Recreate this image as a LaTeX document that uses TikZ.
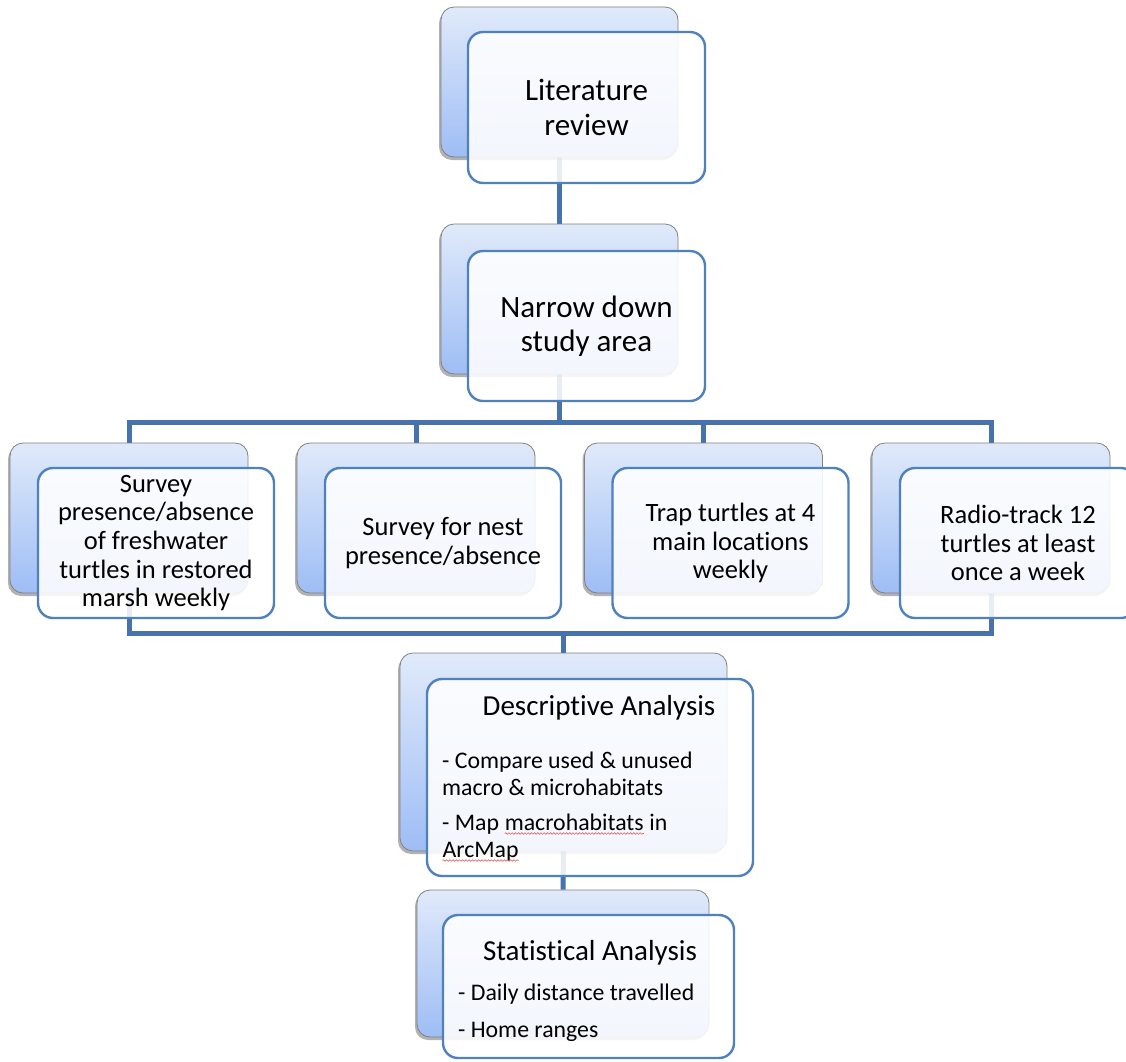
\documentclass[tikz,border=0pt]{standalone}
\usepackage{fontspec}
\setmainfont{Carlito}[Ligatures={NoCommon}]
\usetikzlibrary{shadows,decorations.pathmorphing}
\definecolor{conncol}{RGB}{70,115,172}
\definecolor{frontcol}{RGB}{79,129,189}
\definecolor{backtop}{RGB}{224,234,250}
\definecolor{backbot}{RGB}{158,189,245}
\definecolor{backedge}{RGB}{128,128,128}
\definecolor{squigcol}{RGB}{235,90,90}
\pgfdeclarelayer{bg}
\pgfsetlayers{bg,main}
\newcommand\squig[1]{\tikz[baseline=(sqw.base)]{\node[inner sep=0pt,outer sep=0pt,draw=none,fill=none,anchor=base](sqw){#1};\draw[squigcol,line width=0.6pt,decorate,decoration={snake,amplitude=0.8pt,segment length=3.2pt}]([yshift=-3.5pt]sqw.base west)--([yshift=-3.5pt]sqw.base east);}}
\tikzset{
  backbox/.style={rounded corners=13pt, draw=backedge, line width=0.8pt,
    top color=backtop, bottom color=backbot, inner sep=0pt,
    drop shadow={shadow xshift=-2pt, shadow yshift=-3pt, opacity=0.3, fill=black}},
  frontbox/.style={rounded corners=15pt, draw=frontcol, line width=2.4pt,
    fill=white, fill opacity=0.88, text opacity=1, text=black, align=center, inner sep=0pt},
  conn/.style={draw=conncol, line width=5pt},
  txt/.style={inner sep=0pt, text=black},
  lvlone/.style={font=\fontsize{31}{34.5}\selectfont},
  lvlchild/.style={font=\fontsize{26.5}{28.7}\selectfont},
  titlefont/.style={font=\fontsize{29}{34}\selectfont},
  bulletfont/.style={font=\fontsize{23.8}{27}\selectfont},
  childback/.style={backbox, minimum width=238pt, minimum height=150pt},
  childfront/.style={frontbox, lvlchild, minimum width=236pt, minimum height=150pt}
}
\begin{document}
\begin{tikzpicture}[x=1pt,y=-1pt]
\useasboundingbox (0,0) rectangle (1126,1061);

% top levels
\node[backbox, minimum width=237pt, minimum height=150pt] (b1) at (559.5,82) {};
\node[frontbox, lvlone, minimum width=237pt, minimum height=151pt] (f1) at (586.5,107.5) {Literature\\review};
\node[backbox, minimum width=237pt, minimum height=150pt] (b2) at (559.5,299) {};
\node[frontbox, lvlone, minimum width=237pt, minimum height=150pt] (f2) at (586.5,326) {Narrow down\\study area};

% children
\node[childback] (c1) at (129,518) {};
\node[childfront] (g1) at (156,543) {Survey\\presence/absence\\of freshwater\\turtles in restored\\marsh weekly};
\node[childback] (c2) at (416,518) {};
\node[childfront] (g2) at (443,543) {Survey for nest\\presence/absence};
\node[childback] (c3) at (703.5,518) {};
\node[childfront] (g3) at (730.5,543) {Trap turtles at 4\\main locations\\weekly};
\node[childback] (c4) at (991,518) {};
\node[childfront] (g4) at (1018,543) {Radio-track 12\\turtles at least\\once a week};

% descriptive analysis
\node[backbox, minimum width=327pt, minimum height=198pt] (d) at (563.5,752) {};
\node[frontbox, minimum width=326pt, minimum height=197pt] (fd) at (590,777.5) {};
\node[txt, titlefont, anchor=base] (dt) at (599,715) {Descriptive Analysis};
\node[txt, bulletfont, anchor=base west] (dl1) at (442,768) {- Compare used \& unused};
\node[txt, bulletfont, anchor=base west] (dl2) at (442,795) {macro \& microhabitats};
\node[txt, bulletfont, anchor=base west] (dl3) at (442,830) {- Map \squig{macrohabitats} in};
\node[txt, bulletfont, anchor=base west] (dl4) at (442,857) {\squig{ArcMap}};

% statistical analysis
\node[backbox, minimum width=292pt, minimum height=147pt] (s) at (563,963.5) {};
\node[frontbox, minimum width=291pt, minimum height=143pt] (fs) at (588.5,986.5) {};
\node[txt, titlefont, anchor=base] (st) at (590,960) {Statistical Analysis};
\node[txt, bulletfont, anchor=base west] (sl1) at (458,1000) {- Daily distance travelled};
\node[txt, bulletfont, anchor=base west] (sl2) at (458,1037) {- Home ranges};

% connectors
\coordinate (topbar) at (559.5,422);
\coordinate (botbar) at (563.5,633);
\begin{pgfonlayer}{bg}
\fill[white] (0,0) rectangle (1126,1061);
\draw[conn] (b1.south) -- (b2.north);
\draw[conn] (b2.south) -- (topbar);
\draw[conn] (c1.north) |- (topbar) -| (c4.north);
\draw[conn] (c2.north) -- (c2.north |- topbar);
\draw[conn] (c3.north) -- (c3.north |- topbar);
\draw[conn] (c1.south) |- (botbar) -| (c4.south);
\draw[conn] (botbar) -- (d.north);
\draw[conn] (d.south) -- (s.north);
\end{pgfonlayer}
\end{tikzpicture}
\end{document}
